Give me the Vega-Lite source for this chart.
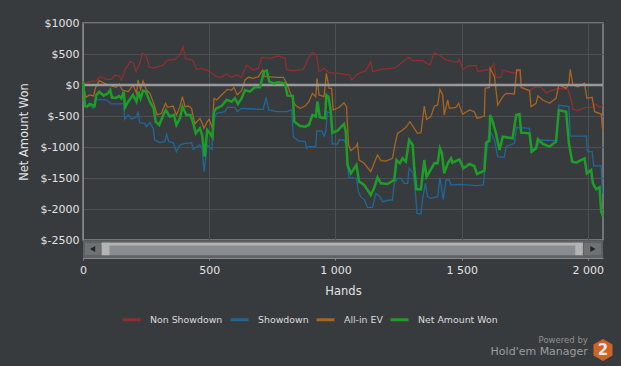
{"$schema":"https://vega.github.io/schema/vega-lite/v6.json","width":520,"height":217,"autosize":"none","padding":{"left":83,"top":23,"right":18,"bottom":126},"background":"#383b3e",
"config":{"view":{"stroke":"#85888a","strokeWidth":1.5},"font":"DejaVu Sans"},
"resolve":{"axis":{"x":"independent","y":"independent"}},
"datasets":{
"red":[{"h":0,"v":54},{"h":11,"v":27},{"h":26,"v":54},{"h":53,"v":65},{"h":66,"v":134},{"h":93,"v":91},{"h":112,"v":91},{"h":126,"v":161},{"h":143,"v":145},{"h":152,"v":81},{"h":169,"v":269},{"h":188,"v":376},{"h":201,"v":349},{"h":210,"v":215},{"h":225,"v":349},{"h":235,"v":511},{"h":249,"v":484},{"h":262,"v":296},{"h":278,"v":269},{"h":298,"v":296},{"h":318,"v":323},{"h":335,"v":403},{"h":364,"v":414},{"h":384,"v":484},{"h":396,"v":618},{"h":406,"v":430},{"h":434,"v":403},{"h":450,"v":253},{"h":467,"v":269},{"h":496,"v":231},{"h":529,"v":134},{"h":549,"v":124},{"h":566,"v":177},{"h":589,"v":124},{"h":611,"v":161},{"h":628,"v":124},{"h":648,"v":323},{"h":675,"v":242},{"h":695,"v":269},{"h":708,"v":446},{"h":741,"v":430},{"h":774,"v":468},{"h":800,"v":430},{"h":807,"v":242},{"h":833,"v":231},{"h":873,"v":253},{"h":893,"v":430},{"h":909,"v":527},{"h":925,"v":484},{"h":935,"v":215},{"h":955,"v":269},{"h":975,"v":199},{"h":1015,"v":188},{"h":1054,"v":161},{"h":1065,"v":81},{"h":1087,"v":177},{"h":1120,"v":231},{"h":1140,"v":376},{"h":1147,"v":215},{"h":1180,"v":253},{"h":1239,"v":280},{"h":1266,"v":376},{"h":1292,"v":446},{"h":1306,"v":392},{"h":1345,"v":392},{"h":1374,"v":323},{"h":1392,"v":527},{"h":1411,"v":484},{"h":1438,"v":403},{"h":1484,"v":366},{"h":1491,"v":414},{"h":1504,"v":253},{"h":1531,"v":312},{"h":1557,"v":312},{"h":1564,"v":215},{"h":1597,"v":242},{"h":1617,"v":269},{"h":1627,"v":339},{"h":1636,"v":124},{"h":1656,"v":124},{"h":1663,"v":242},{"h":1709,"v":188},{"h":1729,"v":242},{"h":1736,"v":-54},{"h":1769,"v":-91},{"h":1795,"v":-27},{"h":1815,"v":-38},{"h":1835,"v":-124},{"h":1881,"v":-54},{"h":1921,"v":-70},{"h":1934,"v":-242},{"h":1941,"v":-392},{"h":1960,"v":-414},{"h":1994,"v":-360},{"h":2020,"v":-360},{"h":2031,"v":-306},{"h":2046,"v":-360},{"h":2060,"v":-323}],
"blue":[{"h":0,"v":54},{"h":8,"v":-349},{"h":26,"v":-339},{"h":42,"v":-376},{"h":49,"v":-242},{"h":66,"v":-231},{"h":93,"v":-242},{"h":112,"v":-306},{"h":152,"v":-306},{"h":161,"v":-296},{"h":165,"v":-554},{"h":179,"v":-484},{"h":192,"v":-548},{"h":212,"v":-521},{"h":218,"v":-430},{"h":225,"v":-607},{"h":245,"v":-618},{"h":251,"v":-672},{"h":265,"v":-607},{"h":278,"v":-699},{"h":284,"v":-887},{"h":304,"v":-930},{"h":324,"v":-914},{"h":331,"v":-796},{"h":340,"v":-914},{"h":357,"v":-930},{"h":370,"v":-1075},{"h":384,"v":-968},{"h":404,"v":-941},{"h":417,"v":-941},{"h":430,"v":-930},{"h":437,"v":-1038},{"h":463,"v":-968},{"h":472,"v":-1021},{"h":480,"v":-1398},{"h":492,"v":-968},{"h":511,"v":-1038},{"h":516,"v":-591},{"h":529,"v":-457},{"h":562,"v":-430},{"h":572,"v":-360},{"h":602,"v":-360},{"h":611,"v":-430},{"h":628,"v":-376},{"h":675,"v":-387},{"h":714,"v":-392},{"h":725,"v":-199},{"h":736,"v":-403},{"h":767,"v":-430},{"h":807,"v":-430},{"h":827,"v":-403},{"h":833,"v":-833},{"h":853,"v":-903},{"h":880,"v":-914},{"h":886,"v":-1021},{"h":893,"v":-995},{"h":922,"v":-995},{"h":926,"v":-742},{"h":946,"v":-742},{"h":955,"v":-823},{"h":962,"v":-753},{"h":968,"v":-430},{"h":981,"v":-457},{"h":988,"v":-952},{"h":1008,"v":-952},{"h":1015,"v":-887},{"h":1034,"v":-887},{"h":1044,"v":-968},{"h":1048,"v":-1317},{"h":1054,"v":-1495},{"h":1083,"v":-1505},{"h":1091,"v":-1720},{"h":1100,"v":-1801},{"h":1114,"v":-1844},{"h":1127,"v":-1973},{"h":1147,"v":-1973},{"h":1160,"v":-1747},{"h":1176,"v":-1801},{"h":1187,"v":-1882},{"h":1213,"v":-1855},{"h":1226,"v":-1855},{"h":1233,"v":-1586},{"h":1246,"v":-1505},{"h":1259,"v":-1505},{"h":1273,"v":-1586},{"h":1286,"v":-1586},{"h":1292,"v":-1344},{"h":1308,"v":-1425},{"h":1316,"v":-1693},{"h":1323,"v":-2070},{"h":1339,"v":-2080},{"h":1345,"v":-1855},{"h":1356,"v":-1586},{"h":1365,"v":-1801},{"h":1378,"v":-1828},{"h":1405,"v":-1801},{"h":1414,"v":-1495},{"h":1427,"v":-1844},{"h":1438,"v":-1532},{"h":1451,"v":-1532},{"h":1458,"v":-1613},{"h":1497,"v":-1602},{"h":1557,"v":-1624},{"h":1586,"v":-1613},{"h":1590,"v":-1425},{"h":1597,"v":-1156},{"h":1610,"v":-726},{"h":1630,"v":-887},{"h":1643,"v":-1156},{"h":1669,"v":-1167},{"h":1676,"v":-995},{"h":1709,"v":-941},{"h":1718,"v":-683},{"h":1769,"v":-699},{"h":1775,"v":-1075},{"h":1795,"v":-995},{"h":1815,"v":-887},{"h":1874,"v":-898},{"h":1885,"v":-328},{"h":1925,"v":-349},{"h":1930,"v":-823},{"h":1994,"v":-823},{"h":1998,"v":-1075},{"h":2017,"v":-1075},{"h":2023,"v":-1306},{"h":2053,"v":-1306},{"h":2057,"v":-1736},{"h":2060,"v":-1736}],
"orange":[{"h":0,"v":54},{"h":11,"v":-199},{"h":26,"v":-161},{"h":42,"v":-177},{"h":50,"v":-38},{"h":64,"v":70},{"h":86,"v":27},{"h":112,"v":-16},{"h":132,"v":-38},{"h":143,"v":16},{"h":156,"v":-81},{"h":179,"v":-108},{"h":198,"v":0},{"h":212,"v":-134},{"h":218,"v":81},{"h":228,"v":-70},{"h":238,"v":65},{"h":251,"v":-81},{"h":265,"v":-134},{"h":280,"v":-296},{"h":294,"v":-484},{"h":311,"v":-457},{"h":327,"v":-296},{"h":335,"v":-360},{"h":357,"v":-339},{"h":370,"v":-484},{"h":384,"v":-349},{"h":394,"v":-188},{"h":404,"v":-349},{"h":417,"v":-339},{"h":430,"v":-376},{"h":443,"v":-629},{"h":463,"v":-538},{"h":472,"v":-618},{"h":479,"v":-699},{"h":492,"v":-591},{"h":500,"v":-554},{"h":513,"v":-699},{"h":519,"v":-215},{"h":529,"v":-242},{"h":549,"v":-161},{"h":572,"v":-70},{"h":589,"v":-81},{"h":598,"v":-38},{"h":611,"v":-161},{"h":628,"v":-91},{"h":642,"v":81},{"h":655,"v":124},{"h":675,"v":108},{"h":695,"v":134},{"h":712,"v":242},{"h":721,"v":134},{"h":734,"v":134},{"h":767,"v":124},{"h":794,"v":124},{"h":807,"v":27},{"h":827,"v":-188},{"h":840,"v":-323},{"h":860,"v":-376},{"h":880,"v":-339},{"h":895,"v":-269},{"h":909,"v":-134},{"h":922,"v":-188},{"h":927,"v":108},{"h":935,"v":-161},{"h":955,"v":-188},{"h":964,"v":188},{"h":975,"v":-54},{"h":985,"v":-54},{"h":991,"v":-403},{"h":1015,"v":-360},{"h":1034,"v":-285},{"h":1044,"v":-349},{"h":1052,"v":-968},{"h":1061,"v":-1059},{"h":1081,"v":-995},{"h":1087,"v":-941},{"h":1094,"v":-1210},{"h":1114,"v":-1263},{"h":1140,"v":-1398},{"h":1153,"v":-1263},{"h":1167,"v":-1129},{"h":1180,"v":-1220},{"h":1200,"v":-1226},{"h":1226,"v":-1183},{"h":1237,"v":-941},{"h":1246,"v":-780},{"h":1266,"v":-726},{"h":1279,"v":-683},{"h":1295,"v":-591},{"h":1308,"v":-672},{"h":1325,"v":-780},{"h":1339,"v":-769},{"h":1352,"v":-339},{"h":1361,"v":-554},{"h":1378,"v":-511},{"h":1392,"v":-339},{"h":1405,"v":-323},{"h":1414,"v":-70},{"h":1425,"v":-161},{"h":1431,"v":-484},{"h":1445,"v":-242},{"h":1451,"v":-376},{"h":1478,"v":-360},{"h":1488,"v":-296},{"h":1504,"v":-473},{"h":1531,"v":-403},{"h":1550,"v":-430},{"h":1561,"v":-538},{"h":1590,"v":-500},{"h":1593,"v":-54},{"h":1610,"v":-38},{"h":1613,"v":269},{"h":1630,"v":134},{"h":1643,"v":-323},{"h":1663,"v":-188},{"h":1676,"v":-134},{"h":1709,"v":-145},{"h":1718,"v":242},{"h":1732,"v":242},{"h":1736,"v":-38},{"h":1769,"v":-91},{"h":1775,"v":-349},{"h":1795,"v":-296},{"h":1802,"v":-177},{"h":1822,"v":-242},{"h":1848,"v":-296},{"h":1874,"v":-215},{"h":1885,"v":0},{"h":1914,"v":-54},{"h":1925,"v":27},{"h":1930,"v":253},{"h":1941,"v":0},{"h":1960,"v":-27},{"h":1987,"v":27},{"h":1996,"v":-215},{"h":2017,"v":-199},{"h":2027,"v":-430},{"h":2053,"v":-468},{"h":2057,"v":-672},{"h":2060,"v":-753}],
"green":[{"h":0,"v":54},{"h":8,"v":-339},{"h":16,"v":-349},{"h":26,"v":-306},{"h":46,"v":-339},{"h":53,"v":-161},{"h":64,"v":-108},{"h":82,"v":-172},{"h":99,"v":-134},{"h":108,"v":-81},{"h":115,"v":-204},{"h":132,"v":-204},{"h":143,"v":-177},{"h":152,"v":-215},{"h":161,"v":-108},{"h":167,"v":-360},{"h":179,"v":-269},{"h":198,"v":-161},{"h":212,"v":-269},{"h":220,"v":-108},{"h":228,"v":-215},{"h":238,"v":-91},{"h":249,"v":-108},{"h":265,"v":-269},{"h":280,"v":-376},{"h":288,"v":-591},{"h":302,"v":-645},{"h":318,"v":-484},{"h":328,"v":-403},{"h":344,"v":-511},{"h":360,"v":-484},{"h":370,"v":-645},{"h":384,"v":-538},{"h":394,"v":-349},{"h":410,"v":-484},{"h":426,"v":-484},{"h":437,"v":-618},{"h":447,"v":-780},{"h":463,"v":-699},{"h":472,"v":-806},{"h":482,"v":-1156},{"h":492,"v":-726},{"h":503,"v":-780},{"h":513,"v":-844},{"h":519,"v":-430},{"h":529,"v":-376},{"h":549,"v":-339},{"h":569,"v":-242},{"h":589,"v":-269},{"h":602,"v":-215},{"h":614,"v":-306},{"h":628,"v":-215},{"h":642,"v":-81},{"h":661,"v":-108},{"h":681,"v":-38},{"h":701,"v":-38},{"h":717,"v":215},{"h":728,"v":231},{"h":738,"v":54},{"h":757,"v":27},{"h":774,"v":43},{"h":800,"v":27},{"h":810,"v":-172},{"h":831,"v":-177},{"h":837,"v":-591},{"h":860,"v":-661},{"h":880,"v":-672},{"h":895,"v":-645},{"h":909,"v":-484},{"h":922,"v":-511},{"h":929,"v":-269},{"h":938,"v":-521},{"h":959,"v":-538},{"h":964,"v":-161},{"h":972,"v":-188},{"h":981,"v":-403},{"h":988,"v":-769},{"h":1008,"v":-737},{"h":1034,"v":-629},{"h":1041,"v":-753},{"h":1048,"v":-1290},{"h":1061,"v":-1425},{"h":1083,"v":-1290},{"h":1094,"v":-1559},{"h":1114,"v":-1613},{"h":1140,"v":-1774},{"h":1153,"v":-1667},{"h":1167,"v":-1489},{"h":1180,"v":-1586},{"h":1206,"v":-1597},{"h":1233,"v":-1532},{"h":1242,"v":-1210},{"h":1255,"v":-1263},{"h":1266,"v":-1183},{"h":1279,"v":-1236},{"h":1292,"v":-887},{"h":1306,"v":-968},{"h":1312,"v":-1317},{"h":1321,"v":-1683},{"h":1339,"v":-1683},{"h":1352,"v":-1210},{"h":1361,"v":-1478},{"h":1392,"v":-1263},{"h":1405,"v":-1263},{"h":1414,"v":-1021},{"h":1422,"v":-1102},{"h":1431,"v":-1425},{"h":1445,"v":-1263},{"h":1458,"v":-1183},{"h":1464,"v":-1253},{"h":1491,"v":-1199},{"h":1507,"v":-1344},{"h":1531,"v":-1274},{"h":1550,"v":-1306},{"h":1561,"v":-1435},{"h":1590,"v":-1382},{"h":1597,"v":-930},{"h":1610,"v":-898},{"h":1613,"v":-484},{"h":1623,"v":-591},{"h":1636,"v":-780},{"h":1650,"v":-1048},{"h":1663,"v":-833},{"h":1702,"v":-860},{"h":1716,"v":-484},{"h":1729,"v":-468},{"h":1736,"v":-769},{"h":1769,"v":-780},{"h":1778,"v":-1075},{"h":1795,"v":-1021},{"h":1802,"v":-876},{"h":1822,"v":-952},{"h":1848,"v":-995},{"h":1874,"v":-914},{"h":1885,"v":-403},{"h":1914,"v":-430},{"h":1925,"v":-941},{"h":1938,"v":-1236},{"h":1954,"v":-1253},{"h":1987,"v":-1183},{"h":1996,"v":-1425},{"h":2013,"v":-1371},{"h":2020,"v":-1586},{"h":2033,"v":-1683},{"h":2046,"v":-1650},{"h":2053,"v":-2043},{"h":2060,"v":-2124}]
},
"layer":[
{"data":{"name":"red"},"mark":{"type":"line","strokeWidth":1.3,"interpolate":"linear"},
"encoding":{"x":{"field":"h","type":"quantitative","scale":{"domain":[0,2060],"nice":false,"zero":false},
"axis":{"title":"Hands","values":[0,500,1000,1500,2000],"offset":18,"labelExpr":"replace(format(datum.value,','),',',' ')","labelFlush":false,"labelOverlap":false,"domainColor":"#85888a","tickColor":"#85888a","tickSize":2,"labelColor":"#e2e2e2","labelFontSize":11,"labelFont":"DejaVu Sans","titleColor":"#e2e2e2","titleFontSize":11.5,"titleFontWeight":"normal","titleFont":"DejaVu Sans","titlePadding":10,"gridColor":"#4d5053","grid":true,"labelPadding":4}},
"y":{"field":"v","type":"quantitative","scale":{"domain":[-2500,1000],"nice":false},
"axis":{"title":"Net Amount Won","values":[-2500,-2000,-1500,-1000,-500,0,500,1000],"labelExpr":"'$' + datum.value","labelFlush":false,"labelOverlap":false,"labelSeparation":0,"labelBound":false,"domainColor":"#85888a","ticks":false,"labelColor":"#e2e2e2","labelFontSize":11,"labelFont":"DejaVu Sans","titleColor":"#e2e2e2","titleFontSize":11.5,"titleFontWeight":"normal","titleFont":"DejaVu Sans","titlePadding":11,"gridColor":"#4d5053","grid":true,"labelPadding":4}},
"color":{"datum":"Non Showdown","type":"nominal","scale":{"domain":["Non Showdown","Showdown","All-in EV","Net Amount Won"],"range":["#8f2f2f","#1f6798","#a8651f","#1e9e28"]},
"legend":{"title":null,"orient":"none","legendX":38,"legendY":286,"direction":"horizontal","columns":4,"symbolType":"stroke","symbolSize":324,"labelColor":"#dcdcdc","labelFontSize":9.4,"labelFont":"DejaVu Sans","labelOffset":8,"columnPadding":1,"encode":{"symbols":{"update":{"strokeWidth":{"value":3}}}}}}}},
{"data":{"name":"blue"},"mark":{"type":"line","strokeWidth":1.3},"encoding":{"x":{"field":"h","type":"quantitative","axis":null},"y":{"field":"v","type":"quantitative","axis":null},"color":{"datum":"Showdown","type":"nominal"}}},
{"data":{"name":"orange"},"mark":{"type":"line","strokeWidth":1.3},"encoding":{"x":{"field":"h","type":"quantitative","axis":null},"y":{"field":"v","type":"quantitative","axis":null},"color":{"datum":"All-in EV","type":"nominal"}}},
{"data":{"values":[{"h":0,"v":0},{"h":2060,"v":0}]},"mark":{"type":"line","strokeWidth":2.5,"color":"#97999b"},"encoding":{"x":{"field":"h","type":"quantitative","axis":null},"y":{"field":"v","type":"quantitative","axis":null}}},
{"data":{"name":"green"},"mark":{"type":"line","strokeWidth":2.5},"encoding":{"x":{"field":"h","type":"quantitative","axis":null},"y":{"field":"v","type":"quantitative","axis":null},"color":{"datum":"Net Amount Won","type":"nominal"}}},
{"data":{"values":[{"a":0,"b":2060,"c":-2510,"d":-2790}]},"mark":{"type":"rect","clip":false,"color":"#5f6265"},"encoding":{"x":{"field":"a","type":"quantitative","axis":null},"x2":{"field":"b"},"y":{"field":"c","type":"quantitative","axis":null},"y2":{"field":"d"}}},
{"data":{"values":[{"a":8,"b":70,"c":-2550,"d":-2740},{"a":1985,"b":2052,"c":-2550,"d":-2740}]},"mark":{"type":"rect","clip":false,"color":"#6f7274"},"encoding":{"x":{"field":"a","type":"quantitative","axis":null},"x2":{"field":"b"},"y":{"field":"c","type":"quantitative","axis":null},"y2":{"field":"d"}}},
{"data":{"values":[{"a":74,"b":1980,"c":-2545,"d":-2745}]},"mark":{"type":"rect","clip":false,"color":"#8a8d8f"},"encoding":{"x":{"field":"a","type":"quantitative","axis":null},"x2":{"field":"b"},"y":{"field":"c","type":"quantitative","axis":null},"y2":{"field":"d"}}},
{"data":{"values":[{"a":74,"b":1980,"c":-2545,"d":-2590},{"a":74,"b":105,"c":-2545,"d":-2745},{"a":1950,"b":1980,"c":-2545,"d":-2745}]},"mark":{"type":"rect","clip":false,"color":"#b2b4b5"},"encoding":{"x":{"field":"a","type":"quantitative","axis":null},"x2":{"field":"b"},"y":{"field":"c","type":"quantitative","axis":null},"y2":{"field":"d"}}},
{"data":{"values":[{"a":38,"c":-2645}]},"mark":{"type":"point","shape":"triangle-left","filled":true,"size":36,"clip":false,"color":"#222426","opacity":1},"encoding":{"x":{"field":"a","type":"quantitative","axis":null},"y":{"field":"c","type":"quantitative","axis":null}}},
{"data":{"values":[{"a":2020,"c":-2645}]},"mark":{"type":"point","shape":"triangle-right","filled":true,"size":36,"clip":false,"color":"#222426","opacity":1},"encoding":{"x":{"field":"a","type":"quantitative","axis":null},"y":{"field":"c","type":"quantitative","axis":null}}},
{"data":{"values":[{"a":2000,"c":-4113,"t":"Powered by"}]},"mark":{"type":"text","clip":false,"align":"right","baseline":"middle","font":"DejaVu Sans","fontSize":8.5,"color":"#8f9193"},"encoding":{"x":{"field":"a","type":"quantitative","axis":null},"y":{"field":"c","type":"quantitative","axis":null},"text":{"field":"t"}}},
{"data":{"values":[{"a":2000,"c":-4306,"t":"Hold'em Manager"}]},"mark":{"type":"text","clip":false,"align":"right","baseline":"middle","font":"DejaVu Sans","fontSize":11,"color":"#9a9c9e"},"encoding":{"x":{"field":"a","type":"quantitative","axis":null},"y":{"field":"c","type":"quantitative","axis":null},"text":{"field":"t"}}},
{"data":{"values":[{"a":2060,"c":-4274}]},"mark":{"type":"point","shape":"M0,-1L0.87,-0.5L0.87,0.5L0,1L-0.87,0.5L-0.87,-0.5Z","filled":true,"size":480,"clip":false,"color":"#cf6226","opacity":1},"encoding":{"x":{"field":"a","type":"quantitative","axis":null},"y":{"field":"c","type":"quantitative","axis":null}}},
{"data":{"values":[{"a":2060,"c":-4274,"t":"2"}]},"mark":{"type":"text","clip":false,"align":"center","baseline":"middle","font":"DejaVu Sans","fontWeight":"bold","fontSize":15,"color":"#e8e8e8"},"encoding":{"x":{"field":"a","type":"quantitative","axis":null},"y":{"field":"c","type":"quantitative","axis":null},"text":{"field":"t"}}}
]}
